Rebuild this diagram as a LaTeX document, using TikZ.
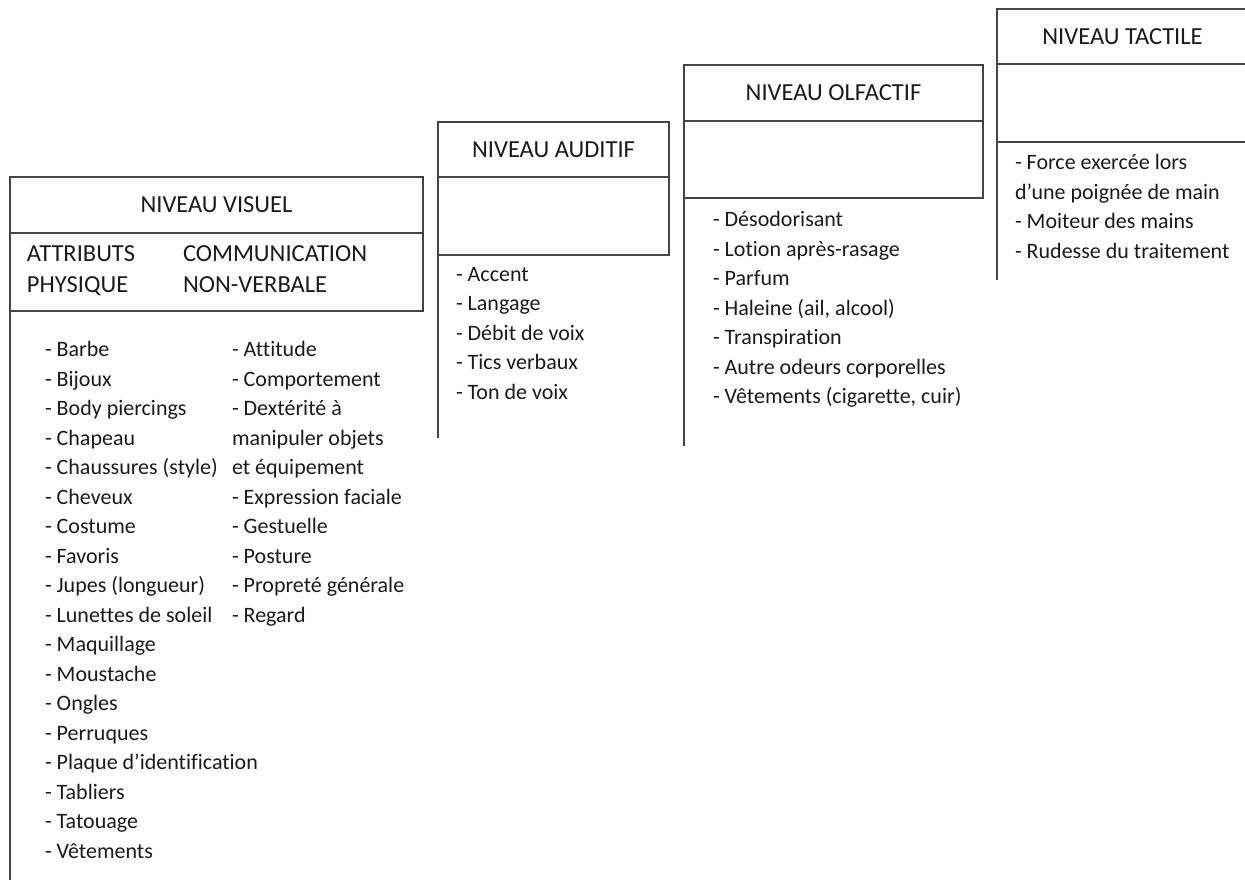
\documentclass[tikz,border=0pt]{standalone}
\usepackage{fontspec}
\setmainfont{Carlito}[Ligatures={NoCommon}]
\definecolor{linec}{HTML}{454545}
\definecolor{textc}{HTML}{1A1A1A}
\begin{document}
\begin{tikzpicture}[x=1pt,y=-1pt,
  hdr/.style={draw=linec, line width=1.6pt, rectangle, inner sep=0pt, outer sep=0pt,
    anchor=north west, text=textc, font=\fontsize{24.5}{29.5}\selectfont},
  lst/.style={inner sep=0pt, outer sep=0pt, anchor=north west, align=left, text=textc,
    font=\fontsize{22}{29.5}\selectfont, execute at begin node=\strut},
  cat/.style={inner sep=0pt, outer sep=0pt, anchor=north west, align=left, text=textc,
    font=\fontsize{24.5}{31}\selectfont, execute at begin node=\strut},
  ln/.style={draw=linec, line width=1.6pt}]
\useasboundingbox (0,0) rectangle (1245,886);
\clip (0,0) rectangle (1245,886);

% NIVEAU VISUEL
\node[hdr, minimum width=413pt, minimum height=56pt] (vh) at (10,177) {NIVEAU VISUEL};
\node[hdr, minimum width=413pt, minimum height=78pt] (vs) at (10,233) {};
\coordinate (ve) at (10,880);
\draw[ln] (vs.south west) -- (ve);
\node[cat] (va) at (27,245.3) {ATTRIBUTS\\PHYSIQUE};
\node[cat] (vc) at (183,245.3) {COMMUNICATION\\NON-VERBALE};
\node[lst] (vl1) at (45,341.35) {- Barbe\\- Bijoux\\- Body piercings\\- Chapeau\\- Chaussures (style)\\- Cheveux\\- Costume\\- Favoris\\- Jupes (longueur)\\- Lunettes de soleil\\- Maquillage\\- Moustache\\- Ongles\\- Perruques\\- Plaque d’identification\\- Tabliers\\- Tatouage\\- Vêtements};
\node[lst] (vl2) at (232,341.35) {- Attitude\\- Comportement\\- Dextérité à\\manipuler objets\\et équipement\\- Expression faciale\\- Gestuelle\\- Posture\\- Propreté générale\\- Regard};

% NIVEAU AUDITIF
\node[hdr, minimum width=231pt, minimum height=55pt] (ah) at (438,122) {NIVEAU AUDITIF};
\node[hdr, minimum width=231pt, minimum height=78pt] (as) at (438,177) {};
\coordinate (ae) at (438,438);
\draw[ln] (as.south west) -- (ae);
\node[lst] (al) at (456,267.35) {- Accent\\- Langage\\- Débit de voix\\- Tics verbaux\\- Ton de voix};

% NIVEAU OLFACTIF
\node[hdr, minimum width=299pt, minimum height=56pt] (oh) at (684,65) {NIVEAU OLFACTIF};
\node[hdr, minimum width=299pt, minimum height=77pt] (os) at (684,121) {};
\coordinate (oe) at (684,446);
\draw[ln] (os.south west) -- (oe);
\node[lst] (ol) at (713,211.35) {- Désodorisant\\- Lotion après-rasage\\- Parfum\\- Haleine (ail, alcool)\\- Transpiration\\- Autre odeurs corporelles\\- Vêtements (cigarette, cuir)};

% NIVEAU TACTILE
\node[hdr, minimum width=251pt, minimum height=55pt] (th) at (997,9) {NIVEAU TACTILE};
\node[hdr, minimum width=251pt, minimum height=78pt] (ts) at (997,64) {};
\coordinate (te) at (997,280);
\draw[ln] (ts.south west) -- (te);
\node[lst] (tl) at (1015,154.35) {- Force exercée lors\\d’une poignée de main\\- Moiteur des mains\\- Rudesse du traitement};
\end{tikzpicture}
\end{document}
